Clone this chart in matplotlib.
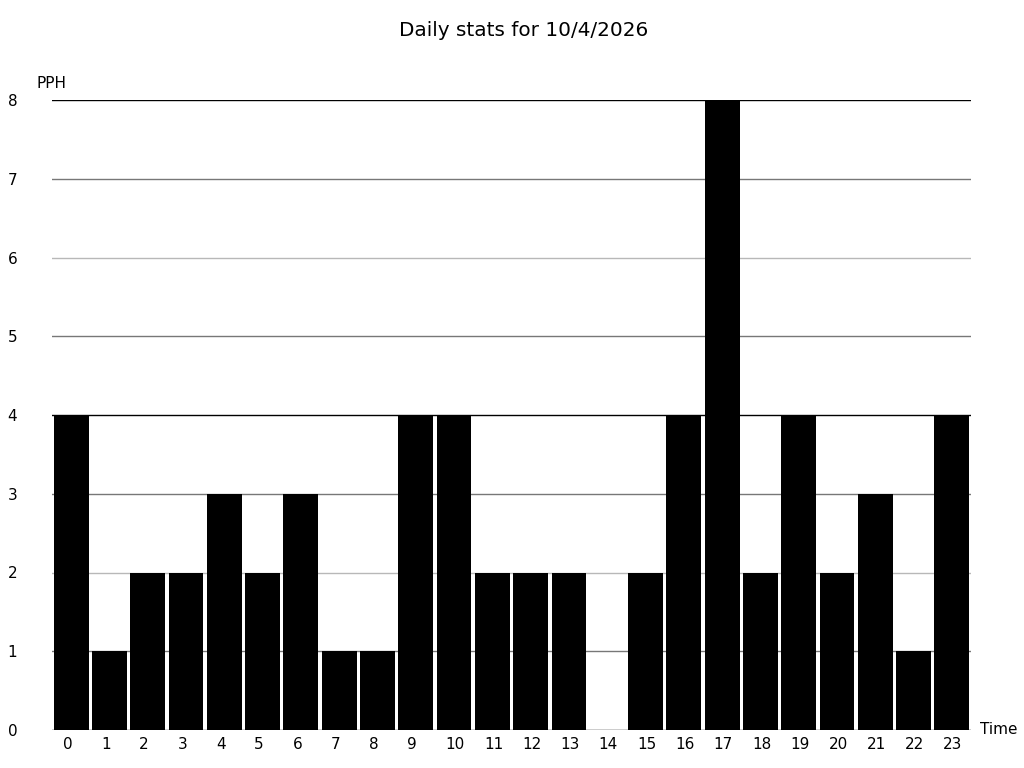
import matplotlib

matplotlib.use("Agg")
import matplotlib.pyplot as plt
import matplotlib.transforms as mtransforms

# hourly counts
hours = list(range(24))
pph = [4, 1, 2, 2, 3, 2, 3, 1, 1, 4, 4, 2, 2, 2, 0, 2, 4, 8, 2, 4, 2, 3, 1, 4]
y_ticks = list(range(9))
grid_colors = {0: "#000000", 4: "#000000", 8: "#000000",
               1: "#777777", 3: "#777777", 5: "#777777", 7: "#777777",
               2: "#b8b8b8", 6: "#b8b8b8"}

fig = plt.figure(figsize=(10.24, 7.68), dpi=100)
ax = fig.add_axes([52 / 1024, 38 / 768, 919 / 1024, 630 / 768])

for y in y_ticks:
    ax.axhline(y, color=grid_colors[y], lw=1, zorder=1)

ax.bar(hours, pph, width=0.91, color="black", edgecolor="none", zorder=2)

ax.set_xlim(-0.5, 23.5)
ax.set_ylim(0, 8)
ax.set_xticks(hours)
ax.set_yticks(y_ticks)
ax.tick_params(axis="both", length=0, labelsize=11)
ax.tick_params(axis="y", pad=25)
ax.tick_params(axis="x", pad=5)
for s in ax.spines.values():
    s.set_visible(False)

# hour labels start a little left of the bar centre
shift = mtransforms.ScaledTranslation(-8.5 / 100, 0, fig.dpi_scale_trans)
for lbl in ax.get_xticklabels():
    lbl.set_horizontalalignment("left")
    lbl.set_transform(lbl.get_transform() + shift)

fig.text(37 / 1024, 1 - 84 / 768, "PPH", fontsize=11, va="center", ha="left")
fig.text(980 / 1024, 1 - 730 / 768, "Time", fontsize=11, va="center", ha="left")
fig.text(524 / 1024, 1 - 31 / 768, "Daily stats for 10/4/2026", fontsize=14.4, ha="center", va="center")

fig.savefig("out.png", dpi=100)
